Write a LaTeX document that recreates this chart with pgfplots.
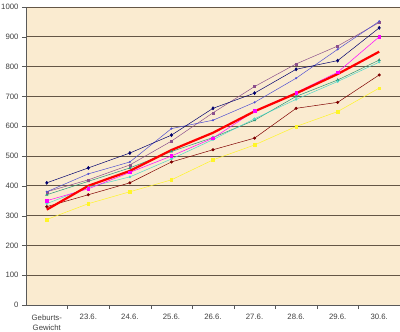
\documentclass[border=0pt]{standalone}
\usepackage{pgfplots}
\pgfplotsset{compat=1.18}
\usepackage{fontspec}
\setmainfont{Liberation Sans}
\definecolor{bg}{RGB}{250,235,208}
\definecolor{gridc}{RGB}{100,86,70}
\definecolor{cnavy}{RGB}{0,0,110}
\definecolor{cblue}{RGB}{80,80,210}
\definecolor{cpurple}{RGB}{140,80,140}
\definecolor{cteal}{RGB}{40,150,120}
\definecolor{ccyan}{RGB}{80,215,200}
\definecolor{cmag}{RGB}{255,0,255}
\definecolor{cbrown}{RGB}{128,0,0}
\definecolor{cyel}{RGB}{255,245,40}
\begin{document}
\begin{tikzpicture}
\useasboundingbox (-26bp,-27bp) rectangle (374bp,305bp);
\begin{axis}[
  at={(0,0)}, anchor=south west,
  scale only axis, width=374bp, height=298bp,
  xmin=-0.5, xmax=8.5, ymin=0, ymax=1000,
  axis lines*=left,
  axis line style={gray!70!black, line width=0.6pt},
  axis background/.style={fill=bg},
  ytick={0,100,...,1000},
  ymajorgrids, major grid style={gridc, line width=0.7pt},
  xtick={0,...,8},
  xticklabels={{Geburts-\\Gewicht},23.6.,24.6.,25.6.,26.6.,27.6.,28.6.,29.6.,30.6.},
  xticklabel style={align=center, font=\fontsize{7.8}{10}\selectfont, text=black!75, yshift=-2bp},
  yticklabel style={font=\fontsize{7.8}{9}\selectfont, text=black!75},
  x tick style={draw=none},
  minor xtick={0.5,1.5,...,7.5},
  minor x tick style={draw=gray!70!black},
  minor tick length=4bp, major tick length=4bp,
  tick align=outside,
  y tick style={gray!70!black},
  /pgf/number format/1000 sep={},
  /pgf/number format/assume math mode=true,
  every axis plot/.append style={line width=0.5pt, mark size=1.3pt},
]
\addplot[cteal, mark=triangle*] coordinates {(0,370)(1,415)(2,460)(3,515)(4,562)(5,620)(6,700)(7,755)(8,822)};
\addplot[ccyan, mark=*, mark size=1pt] coordinates {(0,340)(1,395)(2,430)(3,490)(4,555)(5,625)(6,690)(7,750)(8,815)};
\addplot[cyel, mark=square*] coordinates {(0,287)(1,340)(2,380)(3,420)(4,487)(5,537)(6,599)(7,649)(8,728)};
\addplot[cbrown, mark=*] coordinates {(0,330)(1,370)(2,410)(3,480)(4,521)(5,560)(6,660)(7,680)(8,772)};
\addplot[cmag, mark=square*] coordinates {(0,350)(1,390)(2,445)(3,500)(4,560)(5,651)(6,713)(7,781)(8,900)};
\addplot[cpurple, mark=square*, mark size=1pt] coordinates {(0,380)(1,420)(2,470)(3,550)(4,645)(5,733)(6,809)(7,869)(8,948)};
\addplot[cblue, mark=*, mark size=0.8pt] coordinates {(0,380)(1,440)(2,480)(3,592)(4,620)(5,680)(6,761)(7,858)(8,952)};
\addplot[cnavy, mark=diamond*, mark size=1.6pt] coordinates {(0,410)(1,460)(2,510)(3,570)(4,660)(5,711)(6,791)(7,820)(8,930)};
\addplot[red, line width=2.2pt, mark=none] coordinates {(0,320)(1,400)(2,450)(3,520)(4,578)(5,650)(6,710)(7,775)(8,850)};
\end{axis}
\end{tikzpicture}
\end{document}
